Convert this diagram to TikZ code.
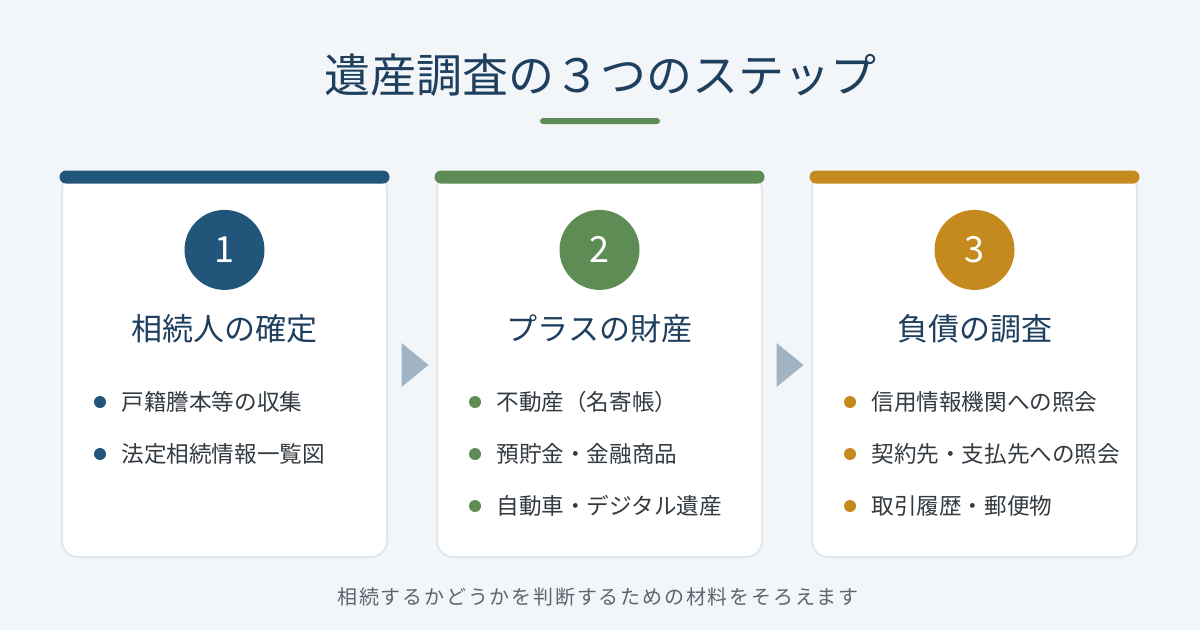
\documentclass[tikz,border=0pt]{standalone}
\usepackage{fontspec}
\setmainfont{Noto Sans CJK JP}
\usepackage{xcolor}
\usepackage{tikz}
\usetikzlibrary{shapes,positioning,calc}

\definecolor{bgcol}{HTML}{F3F6F9}
\definecolor{navy}{HTML}{1F3F5F}
\definecolor{stepblue}{HTML}{22557A}
\definecolor{stepgreen}{HTML}{5E8C55}
\definecolor{stepgold}{HTML}{C48A1E}
\definecolor{cardline}{HTML}{DFE7EF}
\definecolor{arrowgray}{HTML}{A0B4C4}
\definecolor{textgray}{HTML}{333A40}
\definecolor{notegray}{HTML}{5A6570}

\begin{document}
\begin{tikzpicture}[x=1pt, y=-1pt,
    card/.style={rectangle, rounded corners=16pt, draw=cardline, line width=2pt, fill=white, minimum width=325pt, minimum height=384pt, inner sep=0pt},
    topbar/.style={rectangle, rounded corners=6.5pt, fill=#1, minimum width=330pt, minimum height=13pt, inner sep=0pt},
    stepnum/.style={circle, fill=#1, minimum size=80pt, inner sep=0pt, text=white, font=\fontsize{36}{36}\selectfont},
    steptitle/.style={text=navy, font=\fontsize{31}{31}\selectfont, inner sep=0pt},
    bulletdot/.style={circle, fill=#1, minimum size=12pt, inner sep=0pt},
    itemtext/.style={text=textgray, font=\fontsize{22.6}{22.6}\selectfont, inner sep=0pt},
    nextarrow/.style={isosceles triangle, isosceles triangle stretches, shape border rotate=0, fill=arrowgray, minimum width=44pt, minimum height=27pt, inner sep=0pt},
    node distance=48pt]

  \fill[bgcol] (0,0) rectangle (1200,630);
  \useasboundingbox (0,0) rectangle (1200,630);

  % title
  \node[text=navy, font=\fontsize{46}{46}\selectfont] (title) at (600,75) {遺産調査の３つのステップ};
  \node[fill=stepgreen, rounded corners=3pt, minimum width=120pt, minimum height=6pt, inner sep=0pt, below=18pt of title] (rule) {};

  % cards
  \node[card] (card1) at (224.5,365) {};
  \node[card, right=of card1] (card2) {};
  \node[card, right=of card2] (card3) {};

  \node[topbar=stepblue] (bar1) at ($(card1.north)+(0,5)$) {};
  \node[topbar=stepgreen] (bar2) at ($(card2.north)+(0,5)$) {};
  \node[topbar=stepgold] (bar3) at ($(card3.north)+(0,5)$) {};

  \node[stepnum=stepblue, below=26pt of bar1] (num1) {1};
  \node[stepnum=stepgreen, below=26pt of bar2] (num2) {2};
  \node[stepnum=stepgold, below=26pt of bar3] (num3) {3};

  \node[steptitle, below=24pt of num1] (head1) {相続人の確定};
  \node[steptitle, below=24pt of num2] (head2) {プラスの財産};
  \node[steptitle, below=24pt of num3] (head3) {負債の調査};

  % step 1
  \node[bulletdot=stepblue] (d11) at (100,402) {};
  \node[bulletdot=stepblue] (d12) at (100,454) {};
  \node[itemtext, right=15pt of d11] (t11) {戸籍謄本等の収集};
  \node[itemtext, right=15pt of d12] (t12) {法定相続情報一覧図};

  % step 2
  \node[bulletdot=stepgreen] (d21) at (475,402) {};
  \node[bulletdot=stepgreen] (d22) at (475,454) {};
  \node[bulletdot=stepgreen] (d23) at (475,506) {};
  \node[itemtext, right=15pt of d21] (t21) {不動産（名寄帳）};
  \node[itemtext, right=15pt of d22] (t22) {預貯金・金融商品};
  \node[itemtext, right=15pt of d23] (t23) {自動車・デジタル遺産};

  % step 3
  \node[bulletdot=stepgold] (d31) at (850,402) {};
  \node[bulletdot=stepgold] (d32) at (850,454) {};
  \node[bulletdot=stepgold] (d33) at (850,506) {};
  \node[itemtext, right=15pt of d31] (t31) {信用情報機関への照会};
  \node[itemtext, right=15pt of d32] (t32) {契約先・支払先への照会};
  \node[itemtext, right=15pt of d33] (t33) {取引履歴・郵便物};

  % arrows between the cards
  \node[nextarrow] (arr1) at ($(card1.east)!0.5!(card2.west)$) {};
  \node[nextarrow] (arr2) at ($(card2.east)!0.5!(card3.west)$) {};

  \node[text=notegray, font=\fontsize{20}{20}\selectfont\addfontfeature{LetterSpace=9}] (note) at (598,597) {相続するかどうかを判断するための材料をそろえます};
\end{tikzpicture}
\end{document}
